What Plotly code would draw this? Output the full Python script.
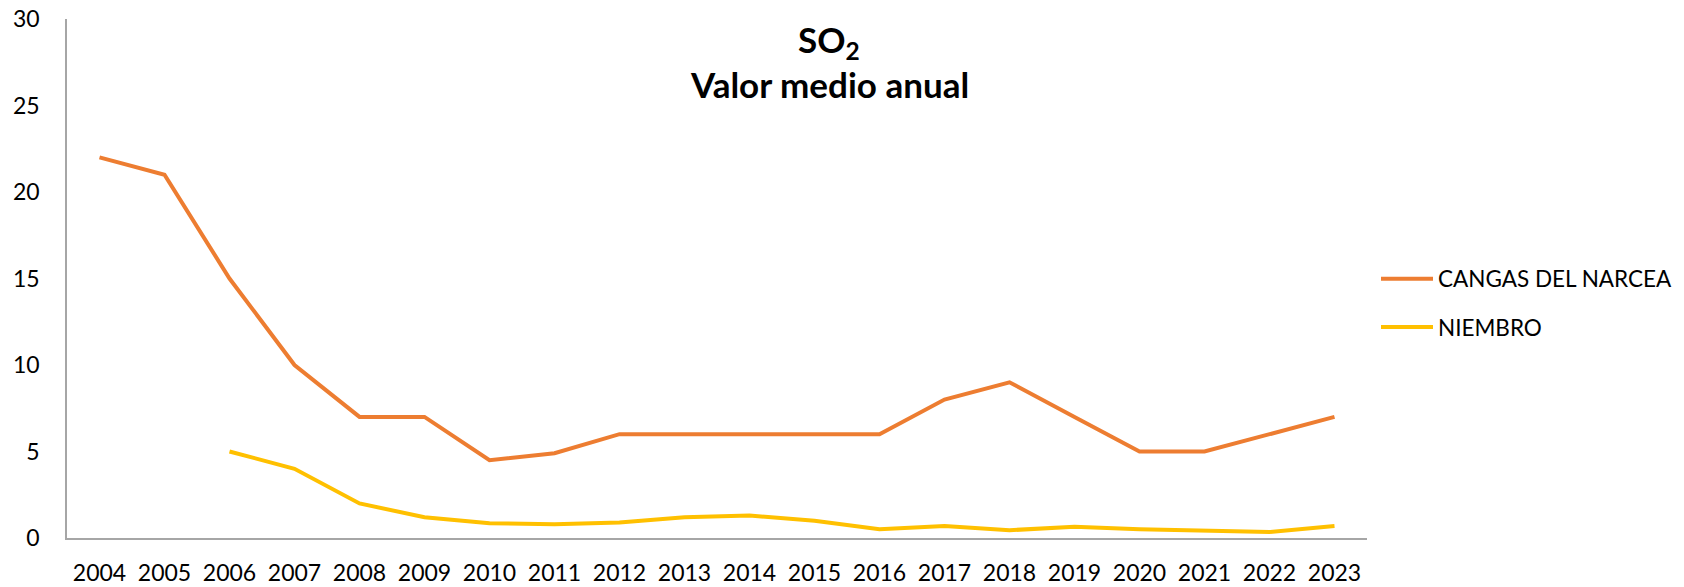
import plotly.graph_objects as go

years = [str(y) for y in range(2004, 2024)]
cangas = [22, 21, 15, 10, 7, 7, 4.5, 4.9, 6, 6, 6, 6, 6, 8, 9, 7, 5, 5, 6, 7]
niembro = [None, None, 5, 4, 2, 1.2, 0.85, 0.8, 0.9, 1.2, 1.3, 1.0, 0.5, 0.7, 0.45, 0.65, 0.5, 0.45, 0.35, 0.7]
series_names = ["CANGAS DEL NARCEA", "NIEMBRO"]
y_ticks = [0, 5, 10, 15, 20, 25, 30]

FONT = "Lato"
W, H = 1684, 587
# plot area in page pixels: x 67..1367, y 19..538
L, T = 67, 19
R = W - 1367
B = H - 538
pw, ph = W - L - R, H - T - B

fig = go.Figure()
fig.add_trace(go.Scatter(x=years, y=cangas, name=series_names[0], mode="lines",
                         line=dict(color="#ED7D31", width=4), legendgroup="a"))
fig.add_trace(go.Scatter(x=years, y=niembro, name=series_names[1], mode="lines",
                         line=dict(color="#FFC000", width=4), legendgroup="b"))

def px_x(x):  # page px -> paper fraction
    return (x - L) / pw

def px_y(y):
    return (H - B - y) / ph

fig.update_layout(
    width=W, height=H,
    margin=dict(l=L, r=R, t=T, b=B, autoexpand=False),
    paper_bgcolor="white", plot_bgcolor="white",
    font=dict(family=FONT, size=23, color="#000000"),
    showlegend=True,
    legend=dict(x=px_x(1376), y=px_y(303), xanchor="left", yanchor="middle",
                font=dict(size=22.5, family=FONT), tracegroupgap=16, itemwidth=52,
                bgcolor="rgba(0,0,0,0)"),
    xaxis=dict(type="category", showline=True, linecolor="#A6A6A6", linewidth=1.5,
               showgrid=False, ticks="", ticklabelstandoff=14, zeroline=False,
               range=[-0.5, 19.5], automargin=False, ticklabeloverflow="allow"),
    yaxis=dict(range=[0, 30], tickvals=y_ticks, showline=True, linecolor="#A6A6A6",
               linewidth=1.5, showgrid=False, ticks="", ticklabelstandoff=21,
               zeroline=False, automargin=False, ticklabeloverflow="allow"),
    annotations=[
        dict(text="<b>SO<sub>2</sub></b>", x=px_x(829), y=px_y(42), xref="paper", yref="paper",
             xanchor="center", yanchor="middle",
             showarrow=False, font=dict(size=35, family=FONT)),
        dict(text="<b>Valor medio anual</b>", x=px_x(829), y=px_y(84), xref="paper", yref="paper",
             xanchor="center", yanchor="middle",
             showarrow=False, font=dict(size=35, family=FONT)),
    ],
)

fig.write_html("out.html", config={"displayModeBar": False},
               post_script="document.body.style.margin='0';document.body.style.overflow='hidden';")
